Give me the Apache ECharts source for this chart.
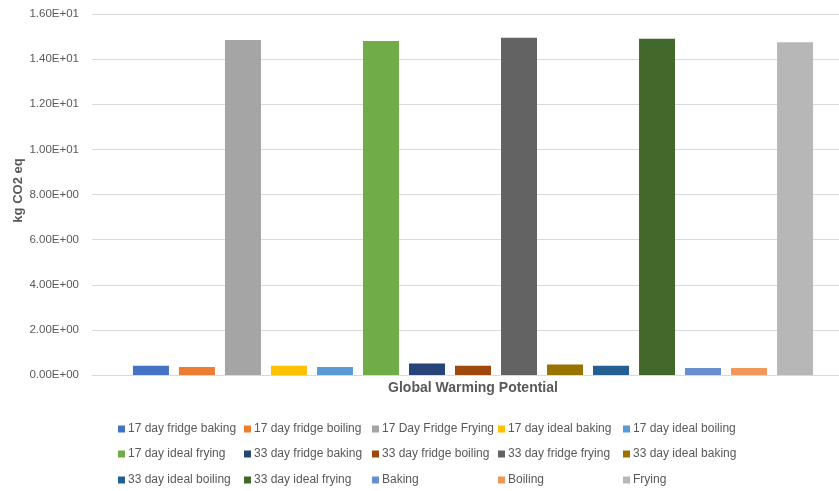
<!DOCTYPE html>
<html>
<head>
<meta charset="utf-8">
<script src="https://cdn.jsdelivr.net/npm/echarts@6/dist/echarts.min.js"></script>
<style>html,body{margin:0;padding:0;background:#fff;}#c{width:839px;height:491px;}</style>
</head>
<body>
<div id="c"></div>
<script>
var categories = ['Global Warming Potential'];
var seriesNames = ['17 day fridge baking','17 day fridge boiling','17 Day Fridge Frying','17 day ideal baking','17 day ideal boiling',
  '17 day ideal frying','33 day fridge baking','33 day fridge boiling','33 day fridge frying','33 day ideal baking',
  '33 day ideal boiling','33 day ideal frying','Baking','Boiling','Frying'];
var seriesValues = [0.41, 0.36, 14.85, 0.41, 0.36, 14.80, 0.51, 0.41, 14.95, 0.46, 0.41, 14.90, 0.31, 0.31, 14.75];
var yTicks = [0, 2, 4, 6, 8, 10, 12, 14, 16];

var colors = ['#4472C4','#ED7D31','#A5A5A5','#FFC000','#5B9BD5','#70AD47','#264478','#9E480E','#636363','#997300','#255E91','#43682B','#698ED0','#F1975A','#B7B7B7'];
var FONT = '"Liberation Sans", Arial, sans-serif';
var legendCols = [118, 244, 372, 498, 623];
var legendRows = [423, 448, 474];

function sci(v) {
  if (v === 0) return '0.00E+00';
  var e = Math.floor(Math.log10(Math.abs(v)) + 1e-9);
  var m = v / Math.pow(10, e);
  var s = e < 0 ? '-' : '+';
  var ae = Math.abs(e);
  return m.toFixed(2) + 'E' + s + (ae < 10 ? '0' + ae : '' + ae);
}

var series = seriesNames.map(function (n, i) {
  return {
    name: n,
    type: 'bar',
    data: [seriesValues[i]],
    barWidth: 36,
    barGap: '27.8%',
    itemStyle: { color: colors[i] }
  };
});

var legends = seriesNames.map(function (n, i) {
  return {
    data: [n],
    left: legendCols[i % 5],
    top: legendRows[Math.floor(i / 5)],
    itemWidth: 7,
    itemHeight: 7,
    icon: 'rect',
    padding: 0,
    textStyle: { color: '#595959', fontSize: 12, fontFamily: FONT, padding: [0, 0, 0, -2] }
  };
});

var chart = echarts.init(document.getElementById('c'), null, { renderer: 'canvas' });
chart.setOption({
  animation: false,
  color: colors,
  grid: { left: 92, right: -15, top: 14, bottom: 116, containLabel: false, outerBoundsMode: 'none' },
  legend: legends,
  xAxis: {
    type: 'category',
    data: categories,
    axisLine: { lineStyle: { color: '#D9D9D9', width: 1 } },
    axisTick: { show: false },
    axisLabel: { color: '#595959', fontSize: 14, fontWeight: 'bold', fontFamily: FONT, margin: 6 }
  },
  yAxis: {
    type: 'value',
    min: yTicks[0],
    max: yTicks[yTicks.length - 1],
    interval: yTicks[1] - yTicks[0],
    name: 'kg CO2 eq',
    nameLocation: 'middle',
    nameGap: 67,
    nameMoveOverlap: false,
    nameRotate: 90,
    nameTextStyle: { color: '#595959', fontSize: 13, fontWeight: 'bold', fontFamily: FONT, padding: [0, 0, 0, 8] },
    axisLine: { show: false },
    axisTick: { show: false },
    splitLine: { lineStyle: { color: '#D9D9D9', width: 1 } },
    axisLabel: { color: '#595959', fontSize: 11.5, fontFamily: FONT, margin: 13, formatter: sci }
  },
  series: series
});
</script>
</body>
</html>
